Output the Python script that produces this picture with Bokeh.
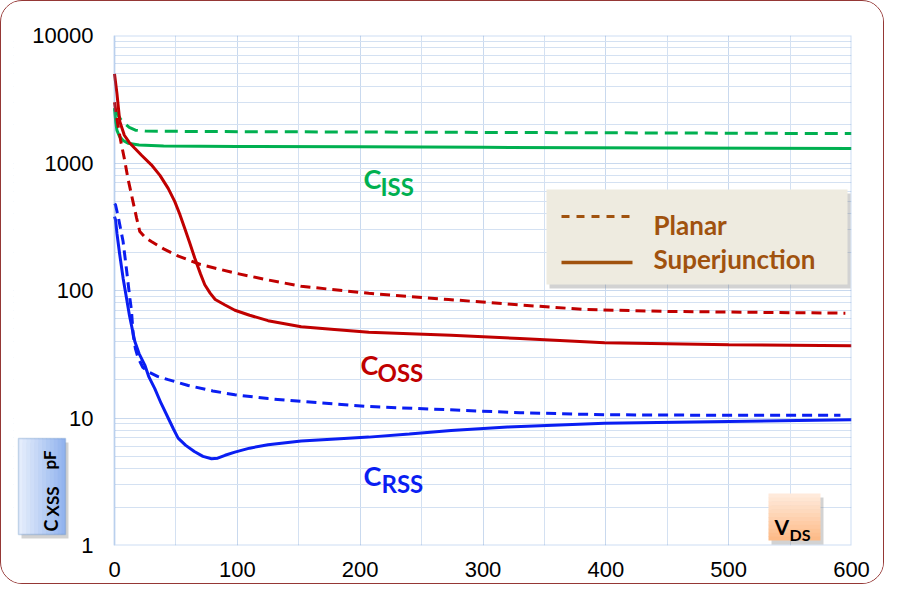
from bokeh.embed import file_html
from bokeh.models import (Arrow, BoxAnnotation, FixedTicker, Label,
                          NumeralTickFormatter, Range1d)
from bokeh.plotting import figure
from bokeh.resources import INLINE

# capacitance (pF) against drain-source voltage (V)
ciss_sj_v = [0, 1, 2, 4, 7, 11, 20, 40, 100, 200, 300, 450, 600]
ciss_sj_c = [2700, 2100, 1800, 1620, 1500, 1430, 1385, 1360, 1350, 1340, 1328, 1312, 1300]

ciss_pl_v = [0, 2, 5, 8, 12, 17, 25, 70, 150, 274, 450, 600]
ciss_pl_c = [2650, 2450, 2200, 2050, 1900, 1810, 1780, 1766, 1755, 1740, 1720, 1700]

coss_sj_v = [0, 2, 4.3, 8, 12, 16.5, 22, 30, 37, 43.7, 49, 53, 57, 61, 65.4, 70,
             73.5, 78, 82, 90, 98, 110, 125, 152, 179, 207, 274, 330, 399, 500, 600]
coss_sj_c = [5000, 3500, 2115, 1650, 1450, 1306, 1150, 968, 800, 632, 500, 400, 310,
             240, 179, 135, 111, 95, 85, 77, 70, 64, 58, 52, 49.5, 47, 44.5, 42, 39,
             37.5, 36.8]

coss_pl_v = [0, 2, 5, 8, 11, 15, 18, 20.6, 25, 30, 40, 52, 70, 98, 125, 152, 207,
             272, 330, 383, 450, 595]
coss_pl_c = [3000, 2200, 1500, 1085, 750, 500, 370, 290, 260, 242, 212, 186, 160,
             137, 121, 108, 95, 85, 77, 71, 68.5, 66.4]

crss_sj_v = [0, 0.8, 2, 4.3, 7, 9.8, 12, 16.5, 20, 24.7, 28, 32.8, 38, 43.7, 48,
             51.8, 58, 65, 72, 79, 84, 90, 98, 110, 125, 152, 180, 207, 240, 274,
             320, 399, 500, 600]
crss_sj_c = [380, 359, 280, 190, 125, 87, 65, 40, 32, 26, 21, 17, 13, 10, 8.2, 6.95,
             6.1, 5.46, 5.0, 4.79, 4.84, 5.1, 5.4, 5.8, 6.17, 6.6, 6.85, 7.08, 7.5,
             7.97, 8.5, 9.1, 9.4, 9.68]

crss_pl_v = [0, 0.8, 3, 7, 10, 12.5, 13.8, 15.2, 17, 19.3, 23, 27.4, 35, 43.7, 60,
             80, 98, 125, 152, 207, 272, 330, 399, 500, 591]
crss_pl_c = [480, 470, 380, 242, 140, 87, 70, 45, 35, 29.5, 25, 23, 21.2, 20, 18,
             16.3, 15.2, 14.2, 13.5, 12.3, 11.6, 11.0, 10.6, 10.5, 10.5]

x_ticks = [0, 100, 200, 300, 400, 500, 600]
y_ticks = [1, 10, 100, 1000, 10000]

GREEN, RED, BLUE, BROWN = "#00B050", "#C00000", "#0A1EF2", "#A0520E"
FRAME = "#5B8ED6"
FONT = "Lato"

# plot box of the picture in pixels: 0 V at 113, 600 V at 850, 10000 at 34, 1 at 544
LEFT = 12  # frame is widened to the left so the y title box can sit in it


def dx(px):
    return (px - 113) / (850 - 113) * 600


def dy(py):
    return 10 ** ((544 - py) / 127.5)


p = figure(width=884, height=584, output_backend="svg", toolbar_location=None,
           y_axis_type="log", x_range=Range1d(dx(LEFT), 600),
           y_range=Range1d(1, 10000),
           min_border_left=LEFT, min_border_right=34, min_border_top=34,
           min_border_bottom=40)
p.styles = {"border": "1.5px solid #953735", "border-radius": "22px",
            "overflow": "hidden"}
p.background_fill_color = "white"
p.border_fill_color = "white"
p.outline_line_color = None

# axes
p.xaxis.ticker = FixedTicker(ticks=x_ticks, minor_ticks=[t + 50 for t in x_ticks[:-1]])
p.yaxis.ticker = FixedTicker(
    ticks=y_ticks,
    minor_ticks=[m * t for t in y_ticks[:-1] for m in range(2, 10)])
p.yaxis.formatter = NumeralTickFormatter(format="0")
for ax in (p.xaxis, p.yaxis):
    ax.axis_line_color = None
    ax.major_tick_line_color = None
    ax.minor_tick_line_color = None
    ax.major_label_text_font = "Liberation Sans"
    ax.major_label_text_font_size = "22px"
    ax.major_label_text_color = "black"
p.xaxis.major_label_standoff = 10
p.yaxis.major_label_standoff = LEFT - 98

for g in (p.xgrid, p.ygrid):
    g.grid_line_color = "#C9D9EE"
    g.minor_grid_line_color = "#D4E1F2"
    g.grid_line_width = 1

# blank out the widened part (under the axis labels) and draw the real plot box
p.add_layout(BoxAnnotation(right=0, fill_color="white", fill_alpha=1, line_color=None,
                           level="underlay"))
p.add_layout(BoxAnnotation(left=0, right=600, bottom=1, top=10000, fill_alpha=0,
                           line_color=FRAME, line_width=2))

# curves
p.line(ciss_pl_v, ciss_pl_c, line_color=GREEN, line_width=3, line_dash="13 7")
p.line(ciss_sj_v, ciss_sj_c, line_color=GREEN, line_width=3)
p.line(coss_pl_v, coss_pl_c, line_color=RED, line_width=3, line_dash="10 6")
p.line(coss_sj_v, coss_sj_c, line_color=RED, line_width=3)
p.line(crss_pl_v, crss_pl_c, line_color=BLUE, line_width=3, line_dash="10 6")
p.line(crss_sj_v, crss_sj_c, line_color=BLUE, line_width=3)


def label(px, py, text, size, color, angle=0.0):
    p.add_layout(Label(x=dx(px), y=dy(py), text=text, text_font=FONT,
                       text_font_style="bold", text_font_size=f"{size}px",
                       text_color=color, angle=angle,
                       text_baseline="alphabetic", text_align="left"))


def box(x0, x1, y0, y1, **kw):
    p.add_layout(BoxAnnotation(left=dx(x0), right=dx(x1), top=dy(y0), bottom=dy(y1),
                               **kw))


def shade(x0, x1, y0, y1, c0, c1, n, vertical):
    # a box filled in n strips going from colour c0 to c1
    a = [int(c0[i:i + 2], 16) for i in (1, 3, 5)]
    b = [int(c1[i:i + 2], 16) for i in (1, 3, 5)]
    for k in range(n):
        t = k / (n - 1)
        col = "#%02x%02x%02x" % tuple(round(a[i] + (b[i] - a[i]) * t) for i in range(3))
        if vertical:
            s0, s1 = y0 + (y1 - y0) * k / n, y0 + (y1 - y0) * (k + 1) / n
            box(x0, x1, s0, min(s1 + 0.5, y1), fill_color=col, fill_alpha=1,
                line_color=None)
        else:
            s0, s1 = x0 + (x1 - x0) * k / n, x0 + (x1 - x0) * (k + 1) / n
            box(s0, min(s1 + 0.5, x1), y0, y1, fill_color=col, fill_alpha=1,
                line_color=None)


def shadow(x0, x1, y0, y1):
    box(x0 + 3, x1 + 3, y0 + 4, y1 + 4, fill_color="#7F7F7F", fill_alpha=0.35,
        line_color=None)


label(362, 177, "C", 27, GREEN)
label(379, 185, "ISS", 24, GREEN)
label(359, 363, "C", 27, RED)
label(376, 371, "OSS", 24, RED)
label(362, 474, "C", 27, BLUE)
label(380, 482, "RSS", 24, BLUE)

# y title box
shadow(17, 64, 437, 533)
shade(17, 64, 437, 533, "#E4EDFC", "#93B4EE", 12, False)
box(17, 64, 437, 533, fill_alpha=0, line_color="#4F81BD", line_width=1.5)
label(49, 530, "C", 18, "black", 1.5708)
label(51, 515, "XSS", 17, "black", 1.5708)
label(48, 468, "pF", 17, "black", 1.5708)

# x title box
shadow(767, 819, 492, 539)
shade(767, 819, 492, 539, "#FFEADB", "#FDBB88", 12, True)
label(773, 525, "V", 21, "black")
label(788, 533, "DS", 16, "black")

# legend
shadow(545, 846, 188, 283)
box(545, 846, 188, 283, fill_color="#EEEBE0", fill_alpha=1, line_color=None)
p.add_layout(Arrow(end=None, x_start=dx(560), x_end=dx(630), y_start=dy(215),
                   y_end=dy(215), line_color=BROWN, line_width=3, line_dash="8 7"))
p.add_layout(Arrow(end=None, x_start=dx(560), x_end=dx(631), y_start=dy(261),
                   y_end=dy(261), line_color=BROWN, line_width=3.5))
label(652, 223, "Planar", 26, BROWN)
label(652, 257, "Superjunction", 26, BROWN)

open("out.html", "w").write(file_html(p, INLINE))
